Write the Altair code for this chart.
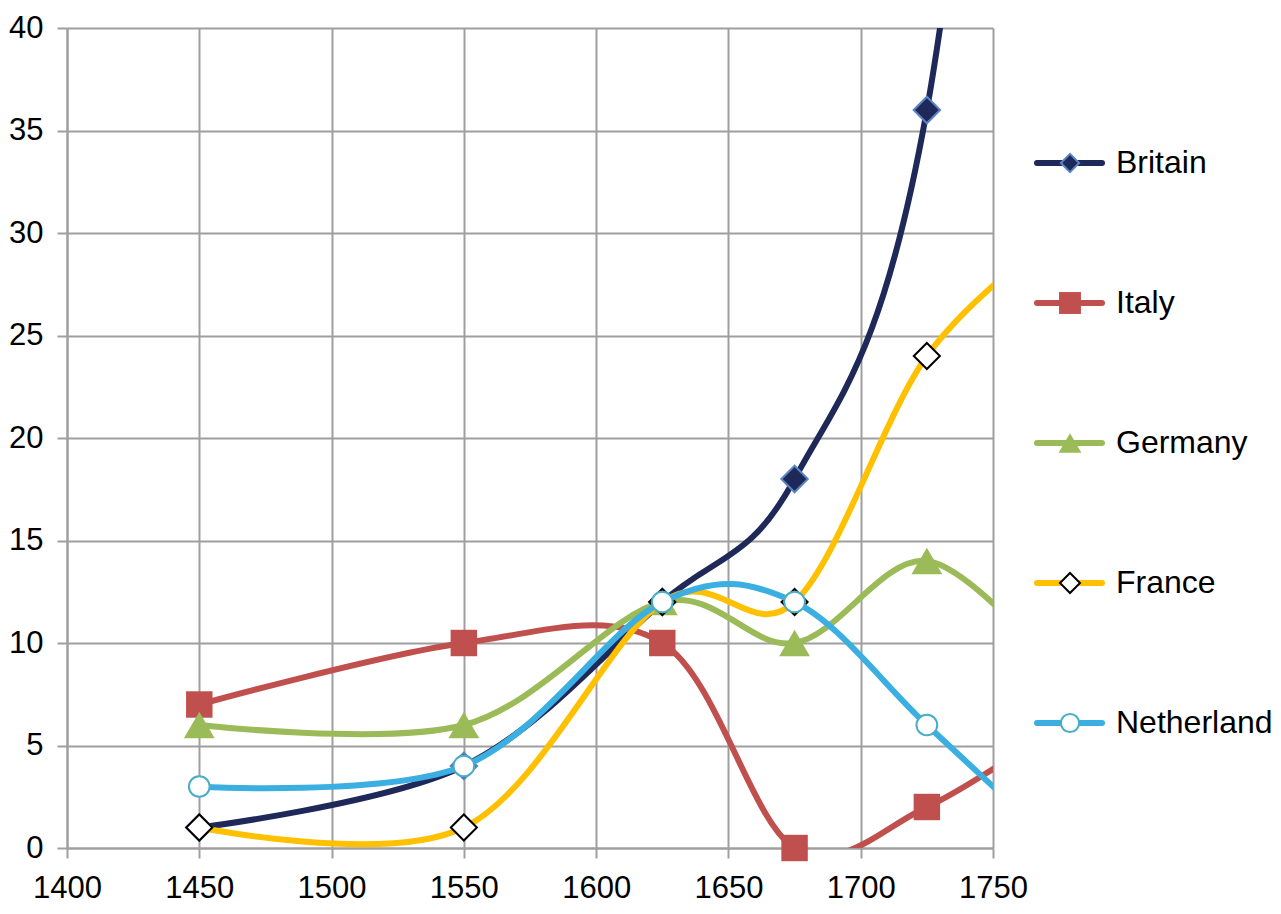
import altair as alt
import pandas as pd

# ---- data ----
years = [1450, 1550, 1625, 1675, 1725, 1775]
countries = ["Britain", "Italy", "Germany", "France", "Netherlands"]
britain = [1, 4, 12, 18, 36, 90]
italy = [7, 10, 10, 0, 2, 6]
germany = [6, 6, 12, 10, 14, 8.5]
france = [1, 1, 12, 12, 24, 30]
netherlands = [3, 4, 12, 12, 6, 0]
x_ticks = [1400, 1450, 1500, 1550, 1600, 1650, 1700, 1750]
y_ticks = [0, 5, 10, 15, 20, 25, 30, 35, 40]

series = {
    "Britain": britain,
    "Italy": italy,
    "Germany": germany,
    "France": france,
    "Netherlands": netherlands,
}

rows = []
for c in countries:
    for yr, v in zip(years, series[c]):
        rows.append({"country": c, "year": yr, "value": v})
df = pd.DataFrame(rows)
leg_df = pd.DataFrame({"country": countries})

# ---- styles ----
style = {
    "Britain": dict(line="#1F2959", shape="diamond", fill="#1F2959", stroke="#5B84C4", sw=2, size=700, lsize=330),
    "Italy": dict(line="#C0504D", shape="square", fill="#C0504D", stroke="#C0504D", sw=0, size=700, lsize=480),
    "Germany": dict(line="#9BBB59", shape="triangle-up", fill="#9BBB59", stroke="#9BBB59", sw=0, size=950, lsize=520),
    "France": dict(line="#FFC000", shape="diamond", fill="#FFFFFF", stroke="#000000", sw=2, size=680, lsize=400),
    "Netherlands": dict(line="#3BAEE2", shape="circle", fill="#FFFFFF", stroke="#4BACC6", sw=2, size=430, lsize=330),
}

GRID = "#9F9F9F"
FONT = "Liberation Sans"
W, H = 926, 820

x_enc = alt.X(
    "year:Q",
    scale=alt.Scale(domain=[1400, 1750], nice=False, zero=False),
    axis=alt.Axis(values=x_ticks, format="d", title=None, grid=True,
                  labelPadding=15, labelFlush=False, labelOverlap=False),
)
y_enc = alt.Y(
    "value:Q",
    scale=alt.Scale(domain=[0, 40], nice=False),
    axis=alt.Axis(values=y_ticks, format="d", title=None, grid=True,
                  labelPadding=14, labelFlush=False, labelOverlap=False),
)

layers = []
for c in countries:
    s = style[c]
    base = alt.Chart(df).transform_filter(alt.datum.country == c)
    line = base.mark_line(
        interpolate="cardinal", tension=0, clip=True, color=s["line"],
        strokeWidth=6, strokeCap="round", strokeJoin="round",
    ).encode(x=x_enc, y=y_enc)
    pts = base.transform_filter(alt.datum.year <= 1750).mark_point(
        shape=s["shape"], filled=True, fill=s["fill"], stroke=s["stroke"],
        strokeWidth=s["sw"], size=s["size"], opacity=1, fillOpacity=1,
    ).encode(x=x_enc, y=y_enc)
    layers += [line, pts]

main = alt.layer(*layers).properties(width=W, height=H)

y_leg = alt.Y(
    "country:N",
    scale=alt.Scale(type="point", domain=countries, range=[135, 695], padding=0),
    axis=None,
)
leg_layers = []
for c in countries:
    s = style[c]
    lb = alt.Chart(leg_df).transform_filter(alt.datum.country == c)
    leg_layers.append(
        lb.mark_rule(color=s["line"], strokeWidth=6, strokeCap="round").encode(
            x=alt.value(44), x2=alt.value(109), y=y_leg
        )
    )
    leg_layers.append(
        lb.mark_point(
            shape=s["shape"], filled=True, fill=s["fill"], stroke=s["stroke"],
            strokeWidth=s["sw"], size=s["lsize"], opacity=1, fillOpacity=1,
        ).encode(x=alt.value(77), y=y_leg)
    )
leg_layers.append(
    alt.Chart(leg_df).mark_text(
        align="left", baseline="middle", fontSize=32, font=FONT, color="#000000",
        limit=158, ellipsis="\u200b",
    ).encode(x=alt.value(123), y=y_leg, text="country:N")
)
legend = alt.layer(*leg_layers).properties(width=278, height=H)

chart = (
    alt.hconcat(main, legend, spacing=0)
    .properties(bounds="flush", padding={"left": 0, "top": 4, "right": 0, "bottom": 0})
    .configure_view(stroke=None)
    .configure_axis(
        gridColor=GRID, gridWidth=2, gridOpacity=1,
        domainColor=GRID, domainWidth=2,
        tickColor=GRID, tickWidth=2, tickSize=10,
        labelFont=FONT, labelFontSize=31, labelColor="#000000",
    )
)

chart.save("out.html", embed_options={"renderer": "svg", "actions": False})
